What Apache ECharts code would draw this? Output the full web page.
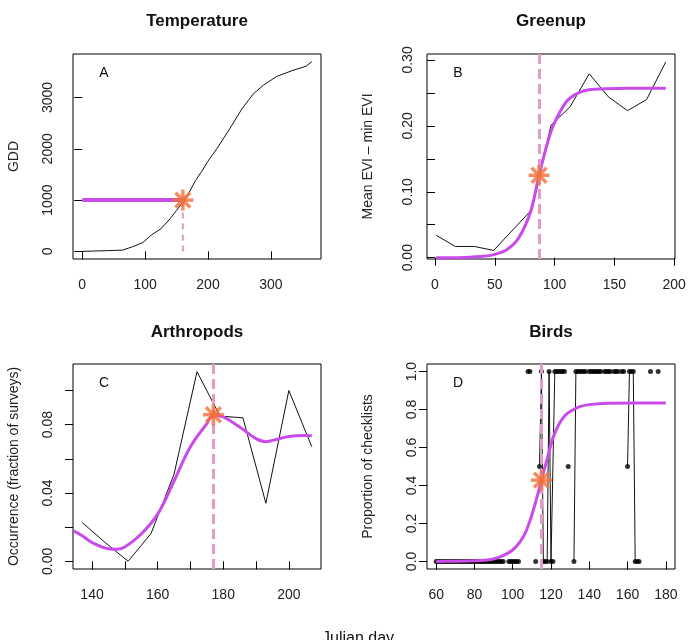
<!DOCTYPE html>
<html>
<head>
<meta charset="utf-8">
<script src="https://cdn.jsdelivr.net/npm/echarts@6/dist/echarts.min.js"></script>
<style>
  html, body { margin: 0; padding: 0; background: #fff; }
  #chart { width: 689px; height: 640px; }
</style>
</head>
<body>
<div id="chart"></div>
<script>
// A: Temperature (cumulative growing degree days)
const tempDays = [0, 20, 40, 64, 80, 96, 110, 125, 140, 150, 160, 170, 180, 190, 200, 214, 235, 254, 272, 288, 309, 335, 356, 365]
const tempGDD = [0, 8, 15, 25, 90, 170, 320, 440, 640, 800, 960, 1150, 1380, 1560, 1760, 2000, 2400, 2780, 3070, 3240, 3410, 3530, 3610, 3700]
const tempThreshold = 1000
const tempOnset = 160

// B: Greenup
const greenDays = [1, 17, 33, 49, 65, 81, 97, 113, 129, 145, 161, 177, 193]
const greenEVI = [0.034, 0.017, 0.017, 0.011, 0.042, 0.073, 0.201, 0.229, 0.279, 0.244, 0.223, 0.240, 0.297]
const greenFitDays = [1, 20, 40, 50, 60, 70, 80, 87, 95, 100, 110, 120, 130, 140, 160, 193]
const greenFitEVI = [0, 0, 0.002, 0.005, 0.012, 0.030, 0.070, 0.125, 0.180, 0.205, 0.237, 0.250, 0.255, 0.256, 0.257, 0.257]
const greenOnset = [87, 0.125]

// C: Arthropods
const arthDays = [137, 144, 151, 158, 165, 172, 179, 186, 193, 200, 207]
const arthOcc = [0.0227, 0.011, 0, 0.0163, 0.051, 0.111, 0.085, 0.084, 0.034, 0.100, 0.067]
const arthFitDays = [134.2, 137, 140, 145, 147.5, 150, 155, 160, 165, 170, 175, 177, 180, 185, 190, 193, 195, 200, 205, 207]
const arthFitOcc = [0.018, 0.015, 0.011, 0.0073, 0.007, 0.0084, 0.016, 0.0276, 0.047, 0.067, 0.0806, 0.0855, 0.0845, 0.0786, 0.0718, 0.070, 0.0708, 0.0731, 0.0737, 0.0735]
const arthPeak = [177, 0.0858]

// D: Birds (days without checklists are left out)
const birdDays = [60, 61, 62, 63, 64, 65, 66, 67, 68, 69, 70, 71, 72, 73, 74, 75, 76, 77, 78, 79,
  80, 81, 82, 83, 84, 85, 86, 87, 88, 89, 90, 91, 92, 93, 94, 95, 98, 99, 100, 101, 102, 103,
  108, 109, 112, 114, 115, 116, 117, 118, 119, 120, 121, 122, 123, 124, 125, 126, 127, 129,
  132, 133, 134, 135, 136, 137, 138, 140, 141, 142, 143, 144, 145, 146, 148, 149, 150, 151,
  153, 154, 155, 157, 158, 160, 161, 162, 163, 164, 165, 166, 172, 176]
const birdProp = [0, 0, 0, 0, 0, 0, 0, 0, 0, 0, 0, 0, 0, 0, 0, 0, 0, 0, 0, 0,
  0, 0, 0, 0, 0, 0, 0, 0, 0, 0, 0, 0, 0, 0, 0, 0, 0, 0, 0, 0, 0, 0,
  1, 1, 0, 0.5, 1, 0, 0, 0, 1, 0, 0, 1, 1, 1, 1, 1, 1, 0.5,
  0, 1, 1, 1, 1, 1, 1, 1, 1, 1, 1, 1, 1, 1, 1, 1, 1, 1,
  1, 1, 1, 1, 1, 0.5, 1, 1, 1, 0, 0, 0, 1, 1]
const birdFitDays = [60, 70, 80, 85, 90, 95, 100, 104, 107, 110, 113, 115, 118, 121, 124, 127, 130, 135, 140, 150, 165, 180]
const birdFitProp = [0, 0.001, 0.003, 0.006, 0.013, 0.03, 0.06, 0.105, 0.16, 0.245, 0.35, 0.43, 0.54, 0.65, 0.72, 0.765, 0.79, 0.815, 0.826, 0.833, 0.834, 0.834]
const birdOnset = [115, 0.428]

const font = '"Liberation Sans", Arial, sans-serif'
const purple = '#C94BEA'
const orange = '#F3703A'
const pink = '#E39BC8'

const zip = (xs, ys) => xs.map((x, k) => [x, ys[k]])

//缺测日断开连线
const birdPts = []
birdDays.forEach((d, k) => {
  if (k > 0 && d - birdDays[k - 1] > 1) birdPts.push([d - 0.5, null])
  birdPts.push([d, birdProp[k]])
})

function xAx(i, min, max, ticks, labels) {
  return {
    type: 'value', gridIndex: i, min: min, max: max,
    axisLine: { show: false },
    splitLine: { show: false },
    axisTick: { show: true, length: 8, lineStyle: { color: '#000' }, customValues: ticks },
    axisLabel: { show: true, margin: 19, fontSize: 14, color: '#222', fontFamily: font, customValues: labels },
  }
}

function yAx(i, min, max, ticks, labels, digits, margin, name) {
  return {
    type: 'value', gridIndex: i, min: min, max: max,
    name: name, nameLocation: 'middle', nameGap: 52,
    nameTextStyle: { fontSize: 14, color: '#222', fontFamily: font },
    axisLine: { show: false },
    splitLine: { show: false },
    axisTick: { show: true, length: 8, lineStyle: { color: '#000' }, customValues: ticks },
    axisLabel: {
      show: true, rotate: 90, margin: margin, fontSize: 14, color: '#222', fontFamily: font,
      customValues: labels,
      formatter: (v) => v.toFixed(digits),
    },
  }
}

function blackLine(i, data) {
  return {
    type: 'line', xAxisIndex: i, yAxisIndex: i, data: data,
    showSymbol: false,
    lineStyle: { color: '#111', width: 1 },
    z: 2,
  }
}

function fitLine(i, data, smooth, onsetX) {
  const s = {
    type: 'line', xAxisIndex: i, yAxisIndex: i, data: data,
    showSymbol: false, smooth: smooth,
    lineStyle: { color: purple, width: 3 },
    z: 3,
  }
  if (onsetX != null) {
    s.markLine = {
      silent: true, symbol: 'none', label: { show: false },
      lineStyle: { color: pink, width: 3, type: [10, 5] },
      data: [{ xAxis: onsetX }],
    }
  }
  return s
}

//星号 = 四根旋转的短棒
function star(i, pt) {
  return {
    type: 'scatter', xAxisIndex: i, yAxisIndex: i,
    symbol: 'rect', symbolSize: [21, 3.5],
    itemStyle: { color: orange },
    data: [0, 45, 90, 135].map((r) => ({ value: pt, symbolRotate: r })),
    z: 5,
  }
}

const grids = [
  { left: 73, top: 54, width: 248, height: 205 },
  { left: 427, top: 54, width: 248, height: 205 },
  { left: 73, top: 364, width: 248, height: 205 },
  { left: 427, top: 364, width: 248, height: 205 },
].map((g) => Object.assign({ show: true, borderColor: '#000', borderWidth: 1, backgroundColor: 'transparent' }, g))

const texts = [
  ['Temperature', 197, 21, 17, 'bold'],
  ['Greenup', 551, 21, 17, 'bold'],
  ['Arthropods', 197, 332, 17, 'bold'],
  ['Birds', 551, 332, 17, 'bold'],
  ['A', 104, 73, 14, 'normal'],
  ['B', 458, 73, 14, 'normal'],
  ['C', 104, 383, 14, 'normal'],
  ['D', 458, 383, 14, 'normal'],
].map((t) => ({
  type: 'text', x: t[1], y: t[2],
  style: { text: t[0], fontSize: t[3], fontWeight: t[4], fontFamily: font, fill: '#111', align: 'center', verticalAlign: 'middle' },
}))
texts.push({
  type: 'text', x: 358, y: 631,
  style: { text: 'Julian day', fontSize: 16, fontFamily: font, fill: '#111', align: 'center', verticalAlign: 'top' },
})

const chart = echarts.init(document.getElementById('chart'))
chart.setOption({
  animation: false,
  grid: grids,
  graphic: texts,
  xAxis: [
    xAx(0, -14.6, 379.6, [0, 100, 200, 300], [0, 100, 200, 300]),
    xAx(1, -6.7, 200.7, [0, 50, 100, 150, 200], [0, 50, 100, 150, 200]),
    xAx(2, 134.2, 209.8, [140, 150, 160, 170, 180, 190, 200], [140, 160, 180, 200]),
    xAx(3, 55.2, 184.8, [60, 80, 100, 120, 140, 160, 180], [60, 80, 100, 120, 140, 160, 180]),
  ],
  yAxis: [
    yAx(0, -148, 3848, [0, 1000, 2000, 3000], [0, 1000, 2000, 3000], 0, 18, 'GDD'),
    yAx(1, -0.002, 0.309, [0, 0.05, 0.1, 0.15, 0.2, 0.25, 0.3], [0, 0.1, 0.2, 0.3], 2, 12, 'Mean EVI \u2013 min EVI'),
    yAx(2, -0.0045, 0.1155, [0, 0.02, 0.04, 0.06, 0.08, 0.1], [0, 0.04, 0.08], 2, 18, 'Occurrence (fraction of surveys)'),
    yAx(3, -0.04, 1.04, [0, 0.2, 0.4, 0.6, 0.8, 1], [0, 0.2, 0.4, 0.6, 0.8, 1], 1, 8, 'Proportion of checklists'),
  ],
  series: [
    // A
    blackLine(0, zip(tempDays, tempGDD)),
    {
      type: 'line', xAxisIndex: 0, yAxisIndex: 0, showSymbol: false,
      data: [[0, tempThreshold], [tempOnset, tempThreshold]],
      lineStyle: { color: purple, width: 4 }, z: 3,
    },
    {
      type: 'line', xAxisIndex: 0, yAxisIndex: 0, showSymbol: false,
      data: [[tempOnset, 0], [tempOnset, tempThreshold]],
      lineStyle: { color: pink, width: 2, type: [6, 5] }, z: 4,
    },
    star(0, [tempOnset, tempThreshold]),
    // B
    blackLine(1, zip(greenDays, greenEVI)),
    fitLine(1, zip(greenFitDays, greenFitEVI), 0.3, greenOnset[0]),
    star(1, greenOnset),
    // C
    blackLine(2, zip(arthDays, arthOcc)),
    fitLine(2, zip(arthFitDays, arthFitOcc), 0.4, arthPeak[0]),
    star(2, arthPeak),
    // D
    blackLine(3, birdPts),
    {
      type: 'scatter', xAxisIndex: 3, yAxisIndex: 3,
      data: birdPts.filter((p) => p[1] != null),
      symbol: 'circle', symbolSize: 5,
      itemStyle: { color: '#000' }, z: 2,
    },
    fitLine(3, zip(birdFitDays, birdFitProp), 0.3, birdOnset[0]),
    star(3, birdOnset),
  ],
})
</script>
</body>
</html>
